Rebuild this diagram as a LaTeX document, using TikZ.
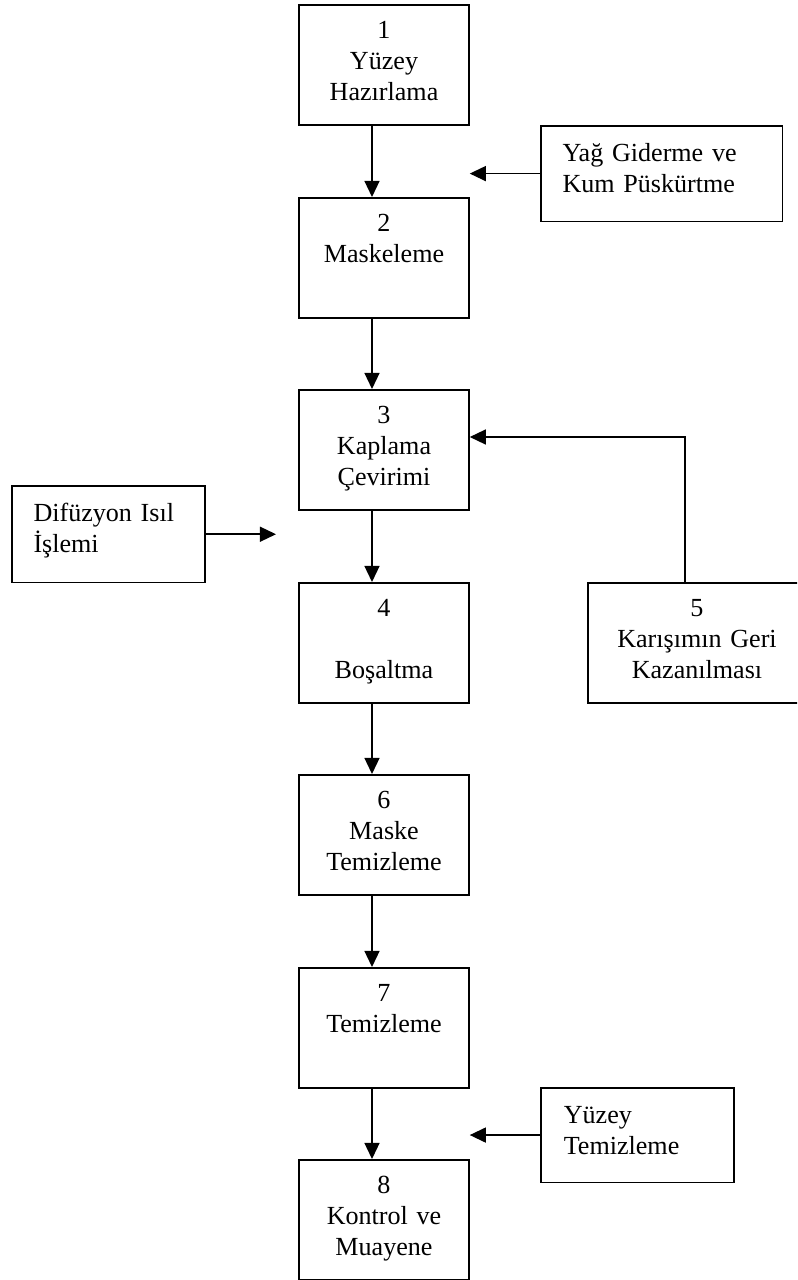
\documentclass[tikz,border=0pt]{standalone}
\usepackage{fontspec}
\setmainfont{Liberation Serif}
\usepackage{tikz}
\usetikzlibrary{arrows.meta, calc}

\begin{document}
\begin{tikzpicture}[x=0.46pt, y=-0.46pt, >={Triangle[length=7.4pt, width=6.9pt]},
  line width=0.7pt,
  stepbox/.style={draw, anchor=north, inner sep=0pt, minimum width=78.2pt,
    text width=78.2pt, align=center, text height=15.64pt, text depth=39.56pt,
    font=\fontsize{12pt}{14.2pt}\selectfont},
  sidebox/.style={draw, anchor=north west, inner ysep=0pt, inner xsep=10pt,
    align=left, text height=16.4pt, font=\fontsize{12pt}{14.2pt}\selectfont}]
  \clip (0,0) rectangle (797,1280);

  \coordinate (axis) at (372,0);
  \coordinate (ret) at (685,437);
  \coordinate (difend) at (276,534);

  \node[stepbox] (b1) at (384,4) {1\\Yüzey\\Hazırlama};
  \node[stepbox] (b2) at (384,197) {2\\Maskeleme};
  \node[stepbox] (b3) at (384,389) {3\\Kaplama\\Çevirimi};
  \node[stepbox] (b4) at (384,582) {4\\\mbox{}\\Boşaltma};
  \node[stepbox, minimum width=100.3pt, text width=100.3pt] (b5) at (697,582)
    {5\\Karışımın Geri\\Kazanılması};
  \node[stepbox] (b6) at (384,774) {6\\Maske\\Temizleme};
  \node[stepbox] (b7) at (384,967) {7\\Temizleme};
  \node[stepbox] (b8) at (384,1159) {8\\Kontrol ve\\Muayene};

  \node[sidebox, text width=91.1pt, text depth=27.6pt] (yag) at (540,125)
    {Yağ Giderme ve\\Kum Püskürtme};
  \node[sidebox, text width=68.8pt, text depth=28.2pt] (dif) at (11,485)
    {Difüzyon Isıl\\İşlemi};
  \node[sidebox, inner xsep=10.6pt, text width=67.6pt, text depth=27.1pt] (yuz) at (540,1087)
    {Yüzey\\Temizleme};

  \draw[->] (b1.south -| axis) -- (b2.north -| axis);
  \draw[->] (b2.south -| axis) -- (b3.north -| axis);
  \draw[->] (b3.south -| axis) -- (b4.north -| axis);
  \draw[->] (b4.south -| axis) -- (b6.north -| axis);
  \draw[->] (b6.south -| axis) -- (b7.north -| axis);
  \draw[->] (b7.south -| axis) -- (b8.north -| axis);

  \draw[->] (yag.west) -- (yag.west -| b2.east);
  \draw[->] (dif.east) -- (dif.east -| difend);
  \draw[->] (b5.north -| ret) -- (ret) -- (b3.east |- ret);
  \draw[->] (yuz.west) -- (yuz.west -| b8.east);
\end{tikzpicture}
\end{document}
